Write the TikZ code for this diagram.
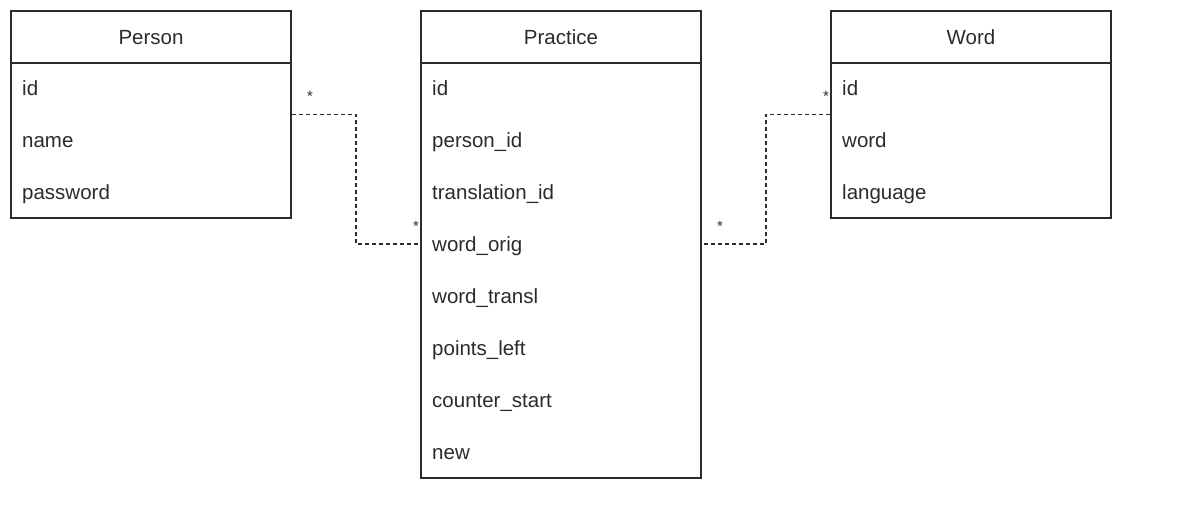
\documentclass[tikz,border=0pt]{standalone}
\usepackage{fontspec}
\setmainfont{Liberation Sans}
\definecolor{ink}{HTML}{2B2B2B}
\tikzset{
	entity/.style={draw=ink, line width=1.4pt, minimum width=280pt, inner sep=0pt},
	title/.style={text=ink, anchor=base, inner sep=0pt, font=\fontsize{20.5}{24}\selectfont},
	field/.style={text=ink, anchor=base west, inner sep=0pt, font=\fontsize{20.5}{24}\selectfont},
	link/.style={draw=ink, line width=1.5pt, dash pattern=on 4pt off 3pt},
	mult/.style={text=ink, inner sep=0pt, font=\fontsize{15}{17}\selectfont}
}
\begin{document}
\begin{tikzpicture}[x=1pt,y=-1pt]
	\useasboundingbox (0,0) rectangle (1184,522);
	% boxes
	\node[entity, minimum height=207pt] (person) at (151,114.5) {};
	\node[entity, minimum height=467pt] (practice) at (561,244.5) {};
	\node[entity, minimum height=207pt] (word) at (971,114.5) {};
	\foreach \e in {person,practice,word}
		\draw[draw=ink, line width=1.4pt] (\e.west |- 0,63)-- (\e.east |- 0,63);
	\node[title] at (151,45) {Person};
	\node[title] at (561,45) {Practice};
	\node[title] at (971,45) {Word};
	% fields
	\foreach \t [count=\i] in {id,name,password}
		\node[field] (person-\i) at (22,43+52*\i) {\t};
	\foreach \t [count=\i] in {id,person\_id,translation\_id,word\_orig,word\_transl,points\_left,counter\_start,new}
		\node[field] (practice-\i) at (432,43+52*\i) {\t};
	\foreach \t [count=\i] in {id,word,language}
		\node[field] (word-\i) at (842,43+52*\i) {\t};
	% relations
	\draw[link] (person.east)-- (356,114.5) |- (practice.west |- 0,244);
	\draw[link] (word.west)-- (766,114.5) |- (practice.east |- 0,244);
	\node[mult] at (310,96) {*};
	\node[mult] at (416,226) {*};
	\node[mult] at (720,226) {*};
	\node[mult] at (826,96) {*};
\end{tikzpicture}
\end{document}
